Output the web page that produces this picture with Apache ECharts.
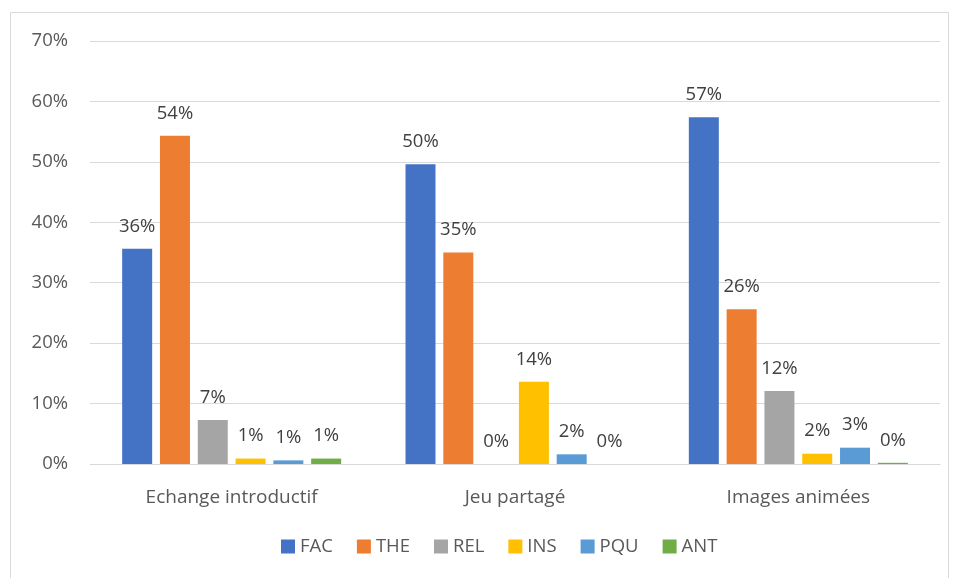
<!DOCTYPE html>
<html><head><meta charset="utf-8">
<script src="https://cdn.jsdelivr.net/npm/echarts@6/dist/echarts.min.js"></script>
<style>html,body{margin:0;padding:0;background:#fff}#c{width:958px;height:578px}</style>
</head><body><div id="c"></div>
<script>
var categories = ['Echange introductif', 'Jeu partagé', 'Images animées'];
var seriesNames = ['FAC', 'THE', 'REL', 'INS', 'PQU', 'ANT'];
var FAC = [35.6, 49.6, 57.4];
var THE = [54.3, 35.0, 25.6];
var REL = [7.3, 0, 12.1];
var INS = [0.9, 13.6, 1.7];
var PQU = [0.6, 1.6, 2.7];
var ANT = [0.9, 0, 0.2];
var yTicks = [0, 10, 20, 30, 40, 50, 60, 70];
var colors = ['#4472C4', '#ED7D31', '#A5A5A5', '#FFC000', '#5B9BD5', '#70AD47'];
var values = [FAC, THE, REL, INS, PQU, ANT];
var font = '"Open Sans", "Noto Sans", sans-serif';
var chart = echarts.init(document.getElementById('c'));
chart.setOption({
  animation: false,
  color: colors,
  graphic: [{type: 'rect', shape: {x: 10.5, y: 12.5, width: 938, height: 570}, style: {fill: 'none', stroke: '#d9d9d9', lineWidth: 1}, silent: true}],
  grid: {left: 90, right: 18, top: 41, bottom: 114, containLabel: false},
  legend: {
    data: seriesNames, bottom: 17, left: 276, itemWidth: 14, itemHeight: 14, itemGap: 24,
    icon: 'rect',
    textStyle: {color: '#595959', fontSize: 18.5, fontFamily: font}
  },
  xAxis: {
    type: 'category', data: categories,
    axisLine: {lineStyle: {color: '#d9d9d9'}}, axisTick: {show: false},
    axisLabel: {color: '#595959', fontSize: 19, fontFamily: font, margin: 24}
  },
  yAxis: {
    type: 'value', min: yTicks[0], max: yTicks[yTicks.length - 1], interval: 10,
    axisLine: {show: false}, axisTick: {show: false},
    splitLine: {lineStyle: {color: '#d9d9d9', width: 1}},
    axisLabel: {color: '#595959', fontSize: 18.5, fontFamily: font, margin: 22, formatter: function (v) { return v + '%'; }}
  },
  series: seriesNames.map(function (n, i) {
    return {
      name: n, type: 'bar', data: values[i], barWidth: 30, barGap: '26%',
      label: {show: true, position: 'top', distance: 13, color: '#404040', fontSize: 18.5, fontFamily: font,
        formatter: function (p) { return Math.round(p.value) + '%'; }}
    };
  })
});
</script></body></html>
